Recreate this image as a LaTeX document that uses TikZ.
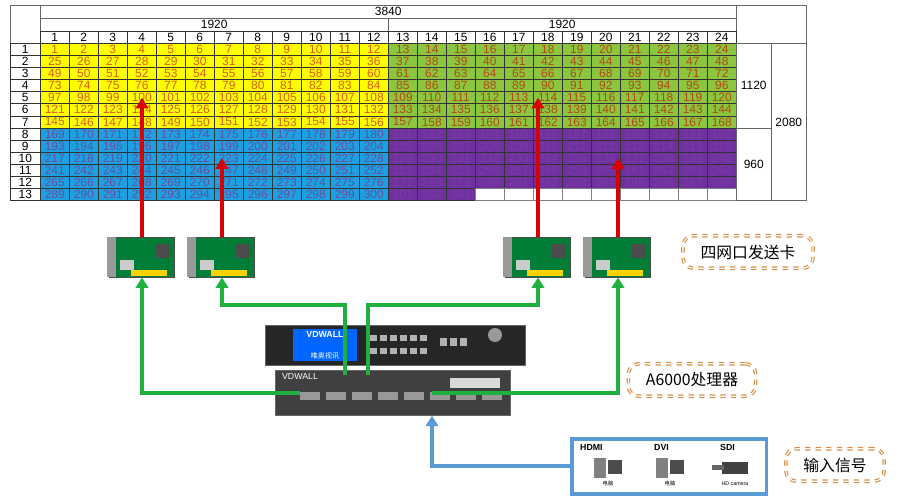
\documentclass[tikz,border=0pt]{standalone}
\usepackage{fontspec}
\setmainfont{Liberation Sans}
\newfontfamily\cjk{Noto Sans CJK SC}
\usetikzlibrary{positioning,arrows.meta,calc}
\definecolor{cellyel}{HTML}{FFFF00}
\definecolor{cellgrn}{HTML}{8CC63F}
\definecolor{cellblu}{HTML}{1BA1E2}
\definecolor{cellpur}{HTML}{7030A0}
\definecolor{txtred}{HTML}{E05A1A}
\definecolor{txtblu}{HTML}{6A4C9C}
\definecolor{txtpur}{HTML}{7A3CA8}
\definecolor{wire}{HTML}{20B040}
\definecolor{boxorg}{HTML}{D8904A}
\definecolor{inblu}{HTML}{5B9BD5}
\begin{document}
\begin{tikzpicture}[x=0.02cm,y=-0.02cm,
    cell/.style={draw=black!80,line width=0.3pt,minimum width=0.58cm,minimum height=0.242cm,inner sep=0pt,font=\fontsize{6.8}{6.8}\selectfont},
    hdr/.style={draw=black!60,line width=0.3pt,inner sep=0pt,font=\fontsize{6.8}{6.8}\selectfont},
    card/.style={draw=black!70,fill=teal!60!green!70!black,minimum width=1.3cm,minimum height=0.8cm,inner sep=0pt},
    tag/.style={draw=boxorg,double,dashed,rounded corners=6pt,line width=0.7pt,inner xsep=10pt,minimum height=0.65cm,font=\cjk\small},
    up/.style={-{Triangle[length=6pt,width=7pt]},line width=1.8pt},
  ]
  \useasboundingbox (0,0) rectangle (900,500);
  % header
  \draw[hdr] (10,5) rectangle (40,43);
  \node[hdr,minimum width=13.92cm,minimum height=0.26cm,anchor=north west] (w3840) at (40,5) {3840};
  \node[hdr,minimum width=6.96cm,minimum height=0.26cm,anchor=north west] (wl) at (40,18) {1920};
  \node[hdr,minimum width=6.96cm,minimum height=0.26cm,anchor=north west] (wr) at (388,18) {1920};
  \draw[hdr] (736,5) rectangle (806,43);
  \foreach \c in {1,...,24}
    \node[cell,anchor=north west] (c\c) at ({40+(\c-1)*29},31) {\c};
  \foreach \r in {1,...,13}
    \node[cell,minimum width=0.6cm,anchor=north west] (r\r) at (10,{43+(\r-1)*12.1}) {\r};
  % cells
  \foreach \r in {1,...,13}
    \foreach \c in {1,...,24}{
      \pgfmathtruncatemacro{\v}{(\r-1)*24+\c}
      \pgfmathtruncatemacro{\q}{(\r>7)*2+(\c>12)+(\r==13)*(\c>15)*2}
      \ifcase\q
        \node[cell,fill=cellyel,text=txtred,anchor=north west] (m\r-\c) at ({40+(\c-1)*29},{43+(\r-1)*12.1}) {\v};
      \or
        \node[cell,fill=cellgrn,text=txtred!80!black,anchor=north west] (m\r-\c) at ({40+(\c-1)*29},{43+(\r-1)*12.1}) {\v};
      \or
        \node[cell,fill=cellblu,text=txtblu,anchor=north west] (m\r-\c) at ({40+(\c-1)*29},{43+(\r-1)*12.1}) {\v};
      \or
        \node[cell,fill=cellpur,text=txtpur,anchor=north west] (m\r-\c) at ({40+(\c-1)*29},{43+(\r-1)*12.1}) {\v};
      \else
        \node[cell,draw=black!50,anchor=north west] (m\r-\c) at ({40+(\c-1)*29},{43+(\r-1)*12.1}) {};
      \fi
    }
  \node[hdr,minimum width=0.7cm,minimum height=1.694cm,anchor=north west] (h1120) at (736,43) {1120};
  \node[hdr,minimum width=0.7cm,minimum height=1.452cm,anchor=north west] (h960) at (736,127.7) {960};
  \node[hdr,minimum width=0.7cm,minimum height=3.146cm,anchor=north west] (h2080) at (771,43) {2080};
  % sending cards
  \foreach \n/\x in {k1/142,k2/222,k3/538,k4/618}{
    \node[card] (\n) at (\x,257) {};
    \fill[black!40] ([xshift=-1pt]\n.north west) rectangle ([xshift=4pt]\n.south west);
    \fill[black!70] ([xshift=8pt,yshift=-4pt]\n.north) rectangle ([xshift=16pt,yshift=-12pt]\n.north);
    \fill[white!80!black] ([xshift=6pt,yshift=4pt]\n.south west) rectangle ([xshift=14pt,yshift=10pt]\n.south west);
    \fill[yellow!70!orange] ([xshift=-6pt,yshift=1pt]\n.south) rectangle ([xshift=14pt,yshift=4pt]\n.south);
  }
  \node[tag] (tcard) at (748,252) {四网口发送卡};
  % red arrows into the screen
  \foreach \n/\m in {k1/m5-4,k2/m10-7,k3/m5-17,k4/m10-20}
    \draw[up,red!85!black] (\n.north) -- (\n.north |- \m.center);
  % processor
  \node[draw=black!60,fill=black!85,minimum width=5.2cm,minimum height=0.8cm,anchor=north west] (proc) at (265,325) {};
  \node[draw=black!60,fill=black!75,minimum width=4.7cm,minimum height=0.9cm,anchor=north west] (rear) at (275,370) {};
  \node[fill=blue!60!cyan,minimum width=1.3cm,minimum height=0.55cm,inner sep=1pt,text=white,align=center] (lcd) at (325,345) {\fontsize{5}{5}\selectfont\bfseries VDWALL\\{\cjk\fontsize{4}{5}\selectfont 唯奥视讯}};
  \foreach \i in {0,...,5}{
    \fill[black!30] ({370+\i*10},335) rectangle ({377+\i*10},341);
    \fill[black!30] ({370+\i*10},348) rectangle ({377+\i*10},354);
  }
  \foreach \i in {0,...,2}
    \fill[black!30] ({440+\i*10},338) rectangle ({447+\i*10},346);
  \fill[black!40] (495,335) circle (7);
  \foreach \i in {0,...,7}
    \fill[black!40] ({300+\i*26},392) rectangle ({320+\i*26},400);
  \fill[white!70!gray] (450,378) rectangle (500,388);
  \node[font=\tiny,text=white] (brand) at (300,376) {VDWALL};
  \node[tag] (tproc) at (692,380) {A6000处理器};
  \coordinate (p1) at (300,393);
  \coordinate (p2) at (345,375);
  \coordinate (p3) at (368,375);
  \coordinate (p4) at (432,393);
  % green wiring
  \draw[up,wire] (p1) -| (k1.south);
  \draw[up,wire] (p2) |- (222,305) -- (k2.south);
  \draw[up,wire] (p3) |- (538,305) -- (k3.south);
  \draw[up,wire] (p4) -| (k4.south);
  % input signals
  \node[draw=inblu,line width=2pt,minimum width=3.9cm,minimum height=1.1cm,anchor=north west] (inp) at (570,437) {};
  \node[font=\tiny\bfseries,anchor=west] (hdmi) at (574,447) {HDMI};
  \node[font=\tiny\bfseries,anchor=west] (dvi) at (648,447) {DVI};
  \node[font=\tiny\bfseries,anchor=west] (sdi) at (714,447) {SDI};
  \foreach \x/\t in {608/电脑,670/电脑}{
    \fill[black!50] (\x-14,458) rectangle (\x-2,478);
    \fill[black!70] (\x,460) rectangle (\x+14,474);
    \node[font=\cjk\fontsize{3}{3}\selectfont] at (\x,484) {\t};
  }
  \fill[black!75] (722,462) rectangle (748,474);
  \fill[black!60] (712,465) rectangle (724,470);
  \node[font=\fontsize{3}{3}\selectfont] (cam) at (735,484) {HD camera};
  \node[tag] (tin) at (835,465) {输入信号};
  \draw[up,inblu,line width=2pt] (inp.west) -| (rear.south -| p4);
\end{tikzpicture}
\end{document}
